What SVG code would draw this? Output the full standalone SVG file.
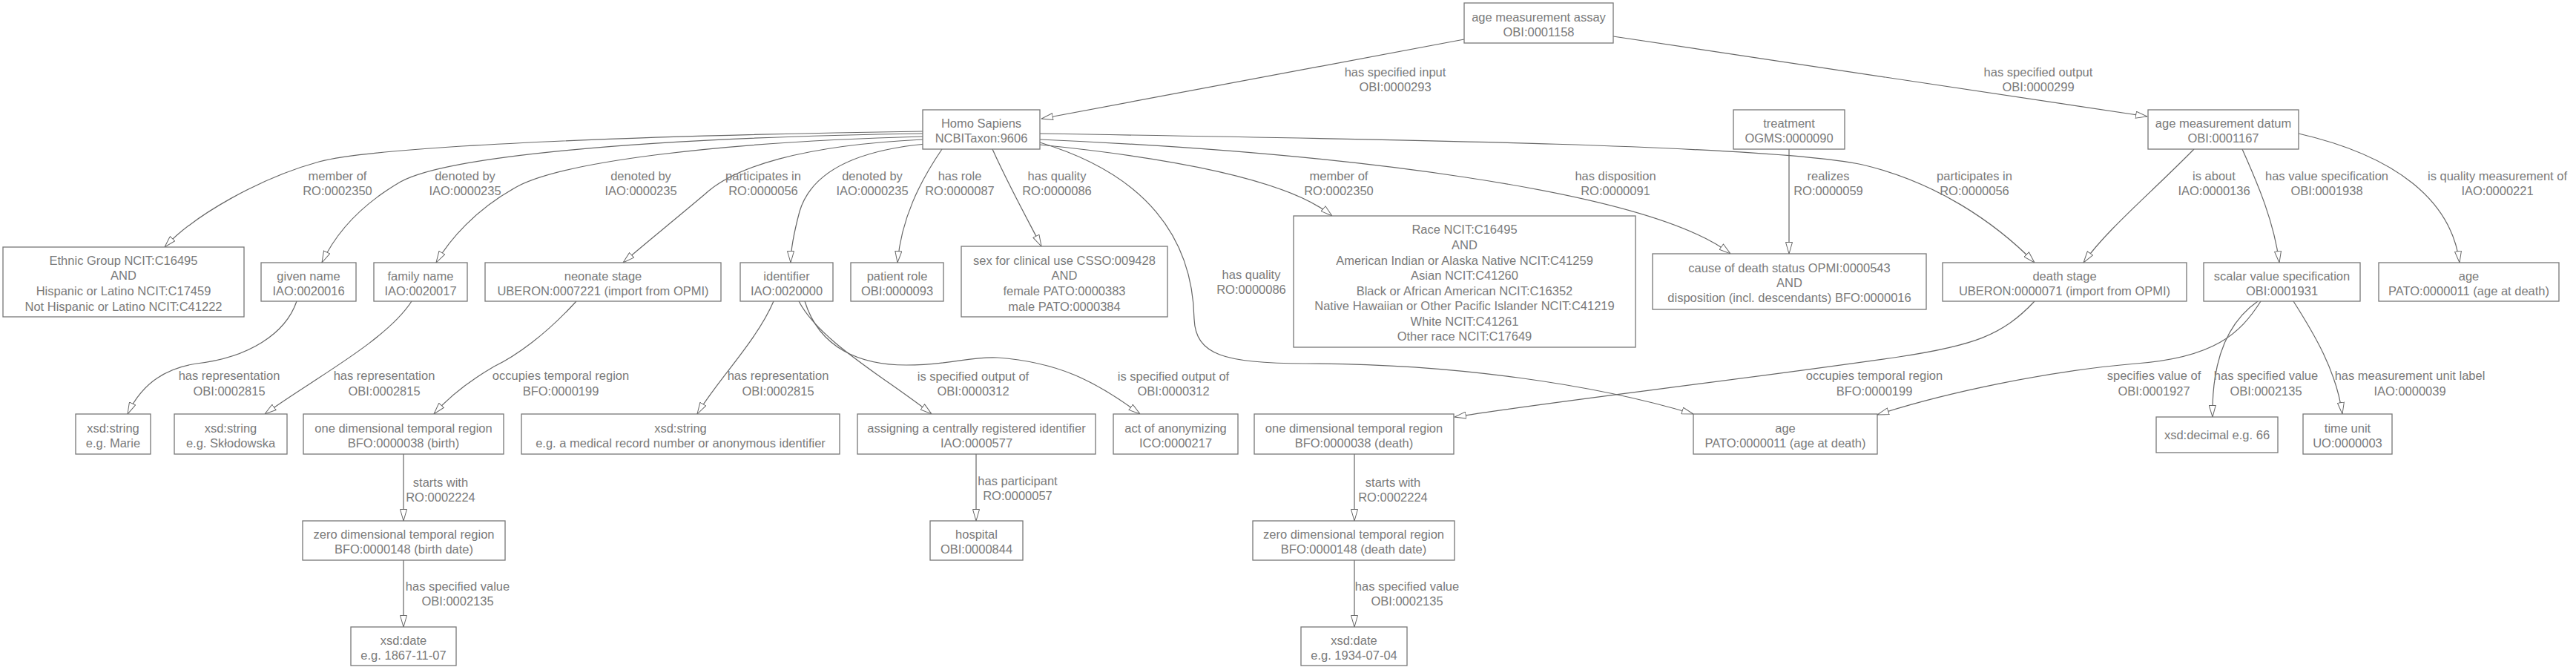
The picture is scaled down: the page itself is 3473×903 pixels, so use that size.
<svg xmlns="http://www.w3.org/2000/svg" width="3473" height="903" viewBox="0 0 3473 903">
<defs>
<marker id="a" viewBox="0 0 16 10" refX="16" refY="5" markerWidth="16" markerHeight="10" orient="auto" markerUnits="userSpaceOnUse">
<path d="M0.5,0.5 L16,5 L0.5,9.5 z" fill="#fff" stroke="#666" stroke-width="1"/>
</marker>
<style>
.n rect{fill:#fff;stroke:#777;stroke-width:1.3}
text{font-family:"Liberation Sans",Arial,sans-serif;font-size:16.5px;fill:#7a7a7a;text-anchor:middle}
.e path{fill:none;stroke:#666;stroke-width:1.2;marker-end:url(#a)}
</style>
</defs>
<rect width="3473" height="903" fill="#fff"/>
<g id="edges" class="e">
<path d="M1974,53 L1404,160"/>
<path d="M2175,49 L2895,157"/>
<path d="M1244,177 C900,182 520,195 430,218 C350,240 262,290 222,333"/>
<path d="M1244,180 C850,186 600,212 540,245 C480,280 450,320 434,354"/>
<path d="M1244,184 C950,192 760,220 700,250 C640,282 605,325 588,354"/>
<path d="M1244,188 C1080,196 990,225 950,262 C905,300 865,332 840,354"/>
<path d="M1248,194 C1130,205 1090,245 1078,285 C1070,315 1066,335 1066,354"/>
<path d="M1270,201 C1240,245 1215,295 1210,354"/>
<path d="M1338,201 C1360,250 1385,295 1404,332"/>
<path d="M1402,192 C1545,235 1608,320 1610,430 C1612,478 1650,490 1760,490 C1960,490 2150,518 2283,558"/>
<path d="M1402,195 C1600,215 1740,245 1796,291"/>
<path d="M1402,188 C1800,205 2220,255 2333,342"/>
<path d="M1402,180 C1900,188 2390,196 2511,222 C2610,245 2690,300 2743,354"/>
<path d="M2412,201 L2412,342"/>
<path d="M2958,201 C2900,260 2840,310 2809,354"/>
<path d="M3023,201 C3045,250 3066,300 3073,354"/>
<path d="M3099,180 C3230,210 3305,270 3316,354"/>
<path d="M3048,406 C3020,450 2985,482 2880,490 C2760,500 2620,530 2531,559"/>
<path d="M3044,406 C2995,440 2982,500 2983,562"/>
<path d="M3092,406 C3120,450 3150,500 3158,558"/>
<path d="M2743,406 C2700,452 2660,466 2560,481 C2300,518 2100,540 1961,562"/>
<path d="M400,406 C385,450 335,482 265,490 C210,498 185,530 172,558"/>
<path d="M555,406 C520,460 420,512 357,558"/>
<path d="M777,406 C735,452 695,480 666,494 C630,515 605,535 585,558"/>
<path d="M1043,406 C1020,460 965,515 940,558"/>
<path d="M1077,406 C1105,460 1195,510 1256,558"/>
<path d="M1085,406 C1105,470 1160,492 1222,492 C1280,492 1310,480 1345,482 C1425,488 1475,512 1537,558"/>
<path d="M1316,612 L1316,702"/>
<path d="M544,612 L544,702"/>
<path d="M544,755 L544,845"/>
<path d="M1826,612 L1826,702"/>
<path d="M1826,755 L1826,845"/>
</g>
<g id="edge-labels">
<text x="1881" y="103">has specified input</text><text x="1881" y="123">OBI:0000293</text>
<text x="2748" y="103">has specified output</text><text x="2748" y="123">OBI:0000299</text>
<text x="455" y="243">member of</text><text x="455" y="263">RO:0002350</text>
<text x="627" y="243">denoted by</text><text x="627" y="263">IAO:0000235</text>
<text x="864" y="243">denoted by</text><text x="864" y="263">IAO:0000235</text>
<text x="1029" y="243">participates in</text><text x="1029" y="263">RO:0000056</text>
<text x="1176" y="243">denoted by</text><text x="1176" y="263">IAO:0000235</text>
<text x="1294" y="243">has role</text><text x="1294" y="263">RO:0000087</text>
<text x="1425" y="243">has quality</text><text x="1425" y="263">RO:0000086</text>
<text x="1687" y="376">has quality</text><text x="1687" y="396">RO:0000086</text>
<text x="1805" y="243">member of</text><text x="1805" y="263">RO:0002350</text>
<text x="2178" y="243">has disposition</text><text x="2178" y="263">RO:0000091</text>
<text x="2465" y="243">realizes</text><text x="2465" y="263">RO:0000059</text>
<text x="2662" y="243">participates in</text><text x="2662" y="263">RO:0000056</text>
<text x="2985" y="243">is about</text><text x="2985" y="263">IAO:0000136</text>
<text x="3137" y="243">has value specification</text><text x="3137" y="263">OBI:0001938</text>
<text x="3367" y="243">is quality measurement of</text><text x="3367" y="263">IAO:0000221</text>
<text x="309" y="512">has representation</text><text x="309" y="533">OBI:0002815</text>
<text x="518" y="512">has representation</text><text x="518" y="533">OBI:0002815</text>
<text x="756" y="512">occupies temporal region</text><text x="756" y="533">BFO:0000199</text>
<text x="1049" y="512">has representation</text><text x="1049" y="533">OBI:0002815</text>
<text x="1312" y="513">is specified output of</text><text x="1312" y="533">OBI:0000312</text>
<text x="1582" y="513">is specified output of</text><text x="1582" y="533">OBI:0000312</text>
<text x="2527" y="512">occupies temporal region</text><text x="2527" y="533">BFO:0000199</text>
<text x="2904" y="512">specifies value of</text><text x="2904" y="533">OBI:0001927</text>
<text x="3055" y="512">has specified value</text><text x="3055" y="533">OBI:0002135</text>
<text x="3249" y="512">has measurement unit label</text><text x="3249" y="533">IAO:0000039</text>
<text x="1372" y="654">has participant</text><text x="1372" y="674">RO:0000057</text>
<text x="594" y="656">starts with</text><text x="594" y="676">RO:0002224</text>
<text x="1878" y="656">starts with</text><text x="1878" y="676">RO:0002224</text>
<text x="617" y="796">has specified value</text><text x="617" y="816">OBI:0002135</text>
<text x="1897" y="796">has specified value</text><text x="1897" y="816">OBI:0002135</text>
</g>
<g id="n-assay" class="n"><rect x="1974" y="4" width="201" height="54"/><text x="2074.5" y="29">age measurement assay</text><text x="2074.5" y="49">OBI:0001158</text></g>
<g id="n-homo" class="n"><rect x="1244" y="148" width="158" height="53"/><text x="1323" y="172">Homo Sapiens</text><text x="1323" y="192">NCBITaxon:9606</text></g>
<g id="n-treatment" class="n"><rect x="2337" y="148" width="150" height="53"/><text x="2412" y="172">treatment</text><text x="2412" y="192">OGMS:0000090</text></g>
<g id="n-datum" class="n"><rect x="2896" y="148" width="203" height="53"/><text x="2997.5" y="172">age measurement datum</text><text x="2997.5" y="192">OBI:0001167</text></g>
<g id="n-ethnic" class="n"><rect x="4" y="333" width="325" height="94"/><text x="166.5" y="357">Ethnic Group NCIT:C16495</text><text x="166.5" y="377">AND</text><text x="166.5" y="398">Hispanic or Latino NCIT:C17459</text><text x="166.5" y="419">Not Hispanic or Latino NCIT:C41222</text></g>
<g id="n-given" class="n"><rect x="352" y="354" width="128" height="52"/><text x="416" y="378">given name</text><text x="416" y="398">IAO:0020016</text></g>
<g id="n-family" class="n"><rect x="504" y="354" width="126" height="52"/><text x="567" y="378">family name</text><text x="567" y="398">IAO:0020017</text></g>
<g id="n-neonate" class="n"><rect x="654" y="354" width="318" height="52"/><text x="813" y="378">neonate stage</text><text x="813" y="398">UBERON:0007221 (import from OPMI)</text></g>
<g id="n-identifier" class="n"><rect x="998" y="354" width="125" height="52"/><text x="1060.5" y="378">identifier</text><text x="1060.5" y="398">IAO:0020000</text></g>
<g id="n-patient" class="n"><rect x="1147" y="354" width="125" height="52"/><text x="1209.5" y="378">patient role</text><text x="1209.5" y="398">OBI:0000093</text></g>
<g id="n-sex" class="n"><rect x="1296" y="332" width="278" height="95"/><text x="1435" y="357">sex for clinical use CSSO:009428</text><text x="1435" y="377">AND</text><text x="1435" y="398">female PATO:0000383</text><text x="1435" y="419">male PATO:0000384</text></g>
<g id="n-race" class="n"><rect x="1744" y="291" width="461" height="177"/><text x="1974.5" y="315">Race NCIT:C16495</text><text x="1974.5" y="336">AND</text><text x="1974.5" y="357">American Indian or Alaska Native NCIT:C41259</text><text x="1974.5" y="377">Asian NCIT:C41260</text><text x="1974.5" y="398">Black or African American NCIT:C16352</text><text x="1974.5" y="418">Native Hawaiian or Other Pacific Islander NCIT:C41219</text><text x="1974.5" y="439">White NCIT:C41261</text><text x="1974.5" y="459">Other race NCIT:C17649</text></g>
<g id="n-cause" class="n"><rect x="2228" y="342" width="369" height="75"/><text x="2412.5" y="367">cause of death status OPMI:0000543</text><text x="2412.5" y="387">AND</text><text x="2412.5" y="407">disposition (incl. descendants) BFO:0000016</text></g>
<g id="n-death-stage" class="n"><rect x="2619" y="354" width="329" height="52"/><text x="2783.5" y="378">death stage</text><text x="2783.5" y="398">UBERON:0000071 (import from OPMI)</text></g>
<g id="n-scalar" class="n"><rect x="2971" y="354" width="211" height="52"/><text x="3076.5" y="378">scalar value specification</text><text x="3076.5" y="398">OBI:0001931</text></g>
<g id="n-age-top" class="n"><rect x="3207" y="354" width="243" height="52"/><text x="3328.5" y="378">age</text><text x="3328.5" y="398">PATO:0000011 (age at death)</text></g>
<g id="n-marie" class="n"><rect x="102" y="558" width="101" height="54"/><text x="152.5" y="583">xsd:string</text><text x="152.5" y="603">e.g. Marie</text></g>
<g id="n-sklodowska" class="n"><rect x="235" y="558" width="152" height="54"/><text x="311" y="583">xsd:string</text><text x="311" y="603">e.g. Skłodowska</text></g>
<g id="n-1d-birth" class="n"><rect x="409" y="558" width="270" height="54"/><text x="544" y="583">one dimensional temporal region</text><text x="544" y="603">BFO:0000038 (birth)</text></g>
<g id="n-xsd-mrn" class="n"><rect x="703" y="558" width="429" height="54"/><text x="917.5" y="583">xsd:string</text><text x="917.5" y="603">e.g. a medical record number or anonymous identifier</text></g>
<g id="n-assigning" class="n"><rect x="1156" y="558" width="321" height="54"/><text x="1316.5" y="583">assigning a centrally registered identifier</text><text x="1316.5" y="603">IAO:0000577</text></g>
<g id="n-anonymizing" class="n"><rect x="1501" y="558" width="168" height="54"/><text x="1585" y="583">act of anonymizing</text><text x="1585" y="603">ICO:0000217</text></g>
<g id="n-1d-death" class="n"><rect x="1691" y="558" width="269" height="54"/><text x="1825.5" y="583">one dimensional temporal region</text><text x="1825.5" y="603">BFO:0000038 (death)</text></g>
<g id="n-age-bottom" class="n"><rect x="2283" y="558" width="248" height="54"/><text x="2407" y="583">age</text><text x="2407" y="603">PATO:0000011 (age at death)</text></g>
<g id="n-decimal" class="n"><rect x="2907" y="562" width="164" height="48"/><text x="2989" y="592">xsd:decimal e.g. 66</text></g>
<g id="n-time-unit" class="n"><rect x="3105" y="558" width="120" height="54"/><text x="3165" y="583">time unit</text><text x="3165" y="603">UO:0000003</text></g>
<g id="n-0d-birth" class="n"><rect x="408" y="702" width="273" height="53"/><text x="544.5" y="726">zero dimensional temporal region</text><text x="544.5" y="746">BFO:0000148 (birth date)</text></g>
<g id="n-hospital" class="n"><rect x="1254" y="702" width="125" height="53"/><text x="1316.5" y="726">hospital</text><text x="1316.5" y="746">OBI:0000844</text></g>
<g id="n-0d-death" class="n"><rect x="1689" y="702" width="272" height="53"/><text x="1825" y="726">zero dimensional temporal region</text><text x="1825" y="746">BFO:0000148 (death date)</text></g>
<g id="n-date-birth" class="n"><rect x="473" y="845" width="142" height="52"/><text x="544" y="869">xsd:date</text><text x="544" y="889">e.g. 1867-11-07</text></g>
<g id="n-date-death" class="n"><rect x="1754" y="845" width="143" height="52"/><text x="1825.5" y="869">xsd:date</text><text x="1825.5" y="889">e.g. 1934-07-04</text></g>
</svg>
